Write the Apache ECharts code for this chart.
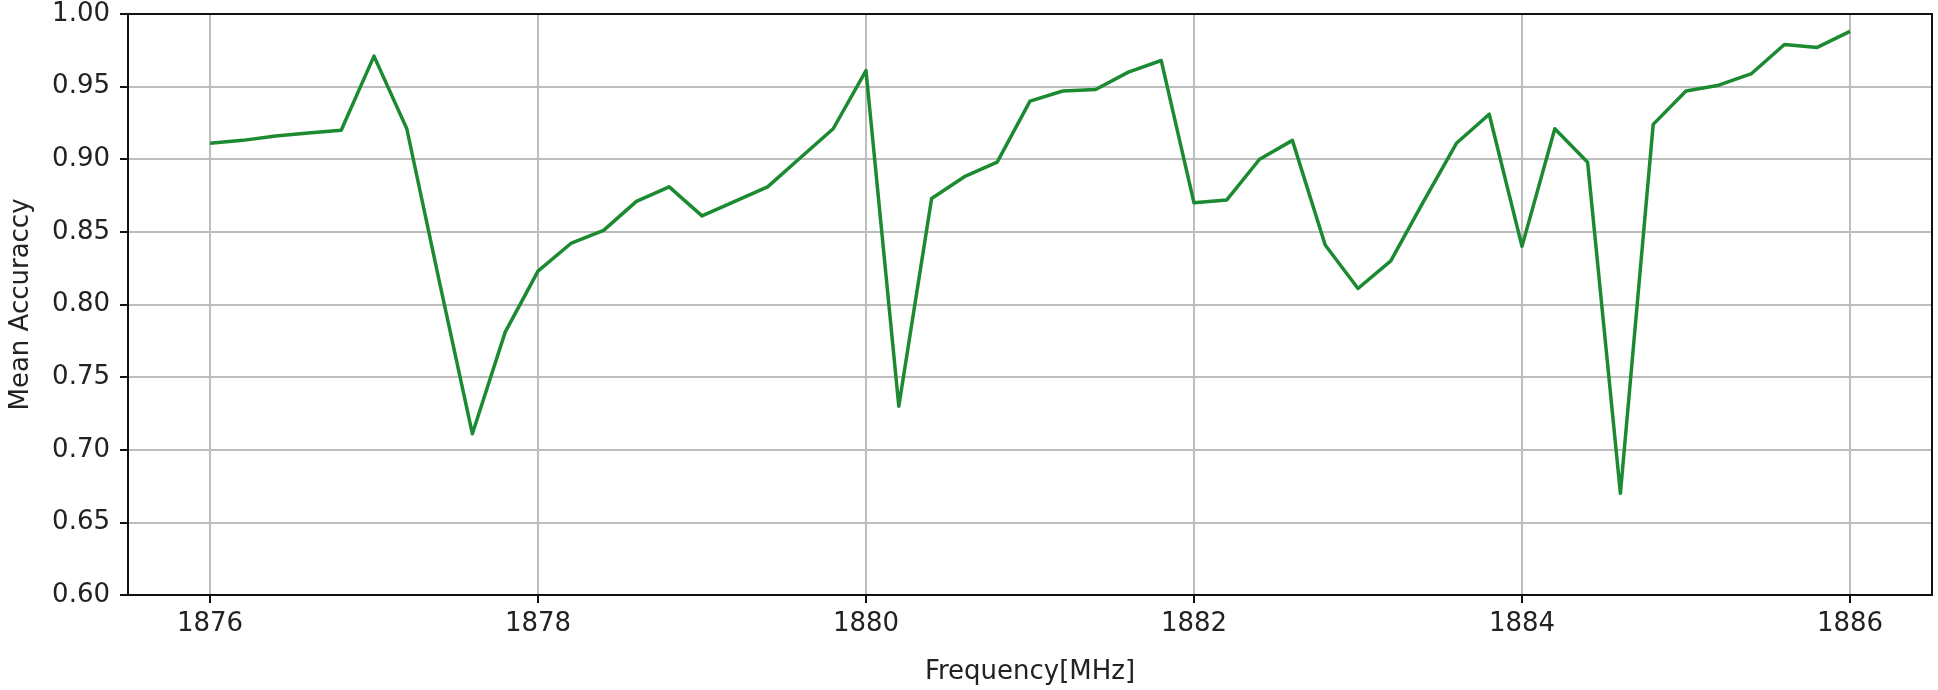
<!DOCTYPE html>
<html lang="en">

<head>
    <meta charset="UTF-8">
    <meta name="viewport" content="width=device-width, initial-scale=1.0">
    <title>Mean Accuracy vs Frequency</title>
    <style>
        body {
            margin: 0px;
            padding: 0px;
            background: #ffffff;
        }

        #accuracyChart {
            width: 1938px;
            height: 690px;
        }
    </style>
</head>

<body>
    <div id="accuracyChart"></div>
    <script src="https://cdn.jsdelivr.net/npm/echarts@6.0.0/dist/echarts.min.js"></script>
    <script>
        // frequency in MHz, 0.2 MHz steps
        var frequency = [
            1876.0, 1876.2, 1876.4, 1876.6, 1876.8, 1877.0, 1877.2, 1877.4, 1877.6, 1877.8,
            1878.0, 1878.2, 1878.4, 1878.6, 1878.8, 1879.0, 1879.2, 1879.4, 1879.6, 1879.8,
            1880.0, 1880.2, 1880.4, 1880.6, 1880.8, 1881.0, 1881.2, 1881.4, 1881.6, 1881.8,
            1882.0, 1882.2, 1882.4, 1882.6, 1882.8, 1883.0, 1883.2, 1883.4, 1883.6, 1883.8,
            1884.0, 1884.2, 1884.4, 1884.6, 1884.8, 1885.0, 1885.2, 1885.4, 1885.6, 1885.8,
            1886.0
        ];
        var meanAccuracy = [
            0.911, 0.913, 0.916, 0.918, 0.920, 0.971, 0.921, 0.815, 0.711, 0.781,
            0.823, 0.842, 0.851, 0.871, 0.881, 0.861, 0.871, 0.881, 0.901, 0.921,
            0.961, 0.730, 0.873, 0.888, 0.898, 0.940, 0.947, 0.948, 0.960, 0.968,
            0.870, 0.872, 0.900, 0.913, 0.841, 0.811, 0.830, 0.871, 0.911, 0.931,
            0.840, 0.921, 0.898, 0.670, 0.924, 0.947, 0.951, 0.959, 0.979, 0.977,
            0.988
        ];
        var xTicks = [1876, 1878, 1880, 1882, 1884, 1886];

        var textColor = '#222222';
        var frameColor = '#111111';
        var gridColor = '#bdbdbd';
        var fontFamily = 'DejaVu Sans';

        drawChart()

        function drawChart() {
            var dom = document.getElementById('accuracyChart');
            var myChart = echarts.init(dom);

            var points = [];
            for (var i = 0; i < frequency.length; i++) {
                points.push([frequency[i], meanAccuracy[i]]);
            }

            // top / right axes only draw the black frame over the grid lines
            var frameOnly = {
                axisLine: { show: true, lineStyle: { color: frameColor, width: 2 } },
                axisTick: { show: false },
                axisLabel: { show: false },
                splitLine: { show: false }
            };

            var option = {
                animation: false,
                backgroundColor: '#ffffff',
                grid: {
                    left: 124,
                    right: 6,
                    top: 14,
                    bottom: 91
                },
                xAxis: [{
                    type: 'value',
                    min: 1875.5,
                    max: 1886.5,
                    name: 'Frequency[MHz]',
                    nameLocation: 'middle',
                    nameGap: 64,
                    nameTextStyle: {
                        color: textColor,
                        fontFamily: fontFamily,
                        fontSize: 26
                    },
                    axisLine: {
                        show: true,
                        lineStyle: { color: frameColor, width: 2 }
                    },
                    axisTick: {
                        show: true,
                        customValues: xTicks,
                        length: 8,
                        lineStyle: { color: frameColor, width: 2 }
                    },
                    axisLabel: {
                        customValues: xTicks,
                        margin: 16,
                        color: textColor,
                        fontFamily: fontFamily,
                        fontSize: 26,
                        formatter: function (v) {
                            return String(Math.round(v));
                        }
                    },
                    splitLine: {
                        show: true,
                        lineStyle: { color: gridColor, width: 2 }
                    }
                }, Object.assign({
                    type: 'value',
                    position: 'top',
                    min: 1875.5,
                    max: 1886.5
                }, frameOnly)],
                yAxis: [{
                    type: 'value',
                    min: 0.6,
                    max: 1.0,
                    interval: 0.05,
                    name: 'Mean Accuraccy',
                    nameLocation: 'middle',
                    nameGap: 94,
                    nameTextStyle: {
                        color: textColor,
                        fontFamily: fontFamily,
                        fontSize: 26
                    },
                    axisLine: {
                        show: true,
                        lineStyle: { color: frameColor, width: 2 }
                    },
                    axisTick: {
                        show: true,
                        length: 8,
                        lineStyle: { color: frameColor, width: 2 }
                    },
                    axisLabel: {
                        margin: 18,
                        color: textColor,
                        fontFamily: fontFamily,
                        fontSize: 26,
                        formatter: function (v) {
                            return v.toFixed(2);
                        }
                    },
                    splitLine: {
                        show: true,
                        lineStyle: { color: gridColor, width: 2 }
                    }
                }, Object.assign({
                    type: 'value',
                    position: 'right',
                    min: 0.6,
                    max: 1.0
                }, frameOnly)],
                series: [
                    {
                        name: 'Mean Accuracy',
                        type: 'line',
                        data: points,
                        showSymbol: false,
                        lineStyle: {
                            color: '#1b8a30',
                            width: 3.5,
                            join: 'round'
                        },
                        itemStyle: { color: '#1b8a30' }
                    }
                ]
            };

            myChart.setOption(option, true);
        }

    </script>
</body>

</html>
